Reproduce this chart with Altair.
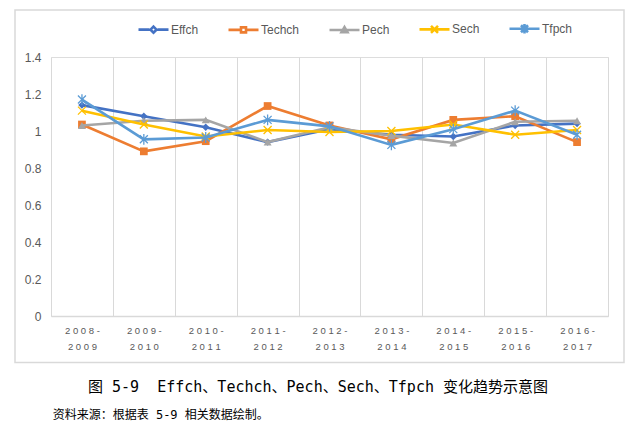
import altair as alt
import pandas as pd

periods = ["2008-2009", "2009-2010", "2010-2011", "2011-2012", "2012-2013",
           "2013-2014", "2014-2015", "2015-2016", "2016-2017"]
series_names = ["Effch", "Techch", "Pech", "Sech", "Tfpch"]
effch = [1.14, 1.08, 1.02, 0.94, 1.01, 0.98, 0.97, 1.03, 1.04]
techch = [1.035, 0.89, 0.945, 1.135, 1.03, 0.955, 1.06, 1.08, 0.94]
pech = [1.03, 1.055, 1.06, 0.94, 1.02, 0.975, 0.935, 1.05, 1.055]
sech = [1.11, 1.035, 0.97, 1.005, 0.995, 1.0, 1.035, 0.98, 1.005]
tfpch = [1.17, 0.955, 0.965, 1.06, 1.025, 0.925, 1.01, 1.11, 0.98]
y_ticks = [0, 0.2, 0.4, 0.6, 0.8, 1.0, 1.2, 1.4]

caption = "图 5-9\u00a0\u00a0Effch、Techch、Pech、Sech、Tfpch 变化趋势示意图"
source_note = "资料来源：根据表 5-9 相关数据绘制。"

colors = ["#4472C4", "#ED7D31", "#A5A5A5", "#FFC000", "#5B9BD5"]
plot_shapes = [
    ("diamond", True, 55),
    ("square", True, 60),
    ("triangle-up", True, 64),
    ("M-1,-1L1,1M1,-1L-1,1", False, 64),
    ("M-1,-1L1,1M1,-1L-1,1M0,-1.35L0,1.35", False, 64),
]
legend_paths = [
    "M-3,0L-0.8,0M0.8,0L3,0M0,-0.6L0.6,0L0,0.6L-0.6,0Z",
    "M-3,0L-0.6,0M0.6,0L3,0M-0.5,-0.5L0.5,-0.5L0.5,0.5L-0.5,0.5Z",
    "M-3,0L3,0M0,-0.6L0.6,0.45L-0.6,0.45Z",
    "M-3,0L3,0M-0.7,-0.7L0.7,0.7M0.7,-0.7L-0.7,0.7",
    "M-3,0L3,0M-0.7,-0.7L0.7,0.7M0.7,-0.7L-0.7,0.7M0,-0.95L0,0.95",
]

values = [effch, techch, pech, sech, tfpch]
rows = []
for name, vals in zip(series_names, values):
    for p, v in zip(periods, vals):
        rows.append({"period": p, "series": name, "value": v})
df = pd.DataFrame(rows)

W, H = 557, 259
FONT = "Liberation Sans"
TXT = "#595959"
GRID = "#D9D9D9"

x_enc = alt.X(
    "period:N",
    sort=periods,
    scale=alt.Scale(type="band", paddingInner=0, paddingOuter=0),
    axis=alt.Axis(
        title=None, tickBand="extent", grid=True, gridColor=GRID, gridWidth=1,
        domain=True, domainColor=GRID, domainWidth=1.5, ticks=False,
        labelAngle=0, labelFont=FONT, labelFontSize=9.5, labelColor=TXT,
        labelPadding=9, labelLineHeight=16, labelBaseline="top",
        labelExpr="[join(split(slice(datum.label,0,5),''),' '), join(split(slice(datum.label,5),''),' ')]",
    ),
)
y_enc = alt.Y(
    "value:Q",
    scale=alt.Scale(domain=[0, 1.4], nice=False, zero=True),
    axis=alt.Axis(
        title=None, values=y_ticks, grid=False, domain=False, ticks=False,
        format=".1~f", labelFont=FONT, labelFontSize=12, labelColor=TXT,
        labelPadding=10,
    ),
)

layers = []

frame = alt.Chart(pd.DataFrame({"k": [0]})).mark_rect(
    fill="white", fillOpacity=0, stroke=GRID, strokeWidth=1.5
).encode(
    x=alt.value(-36), x2=alt.value(573), y=alt.value(-47), y2=alt.value(305.5)
)
layers.append(frame)

for name, col, (shape, filled, size) in zip(series_names, colors, plot_shapes):
    sub = alt.Chart(df).transform_filter(alt.datum.series == name)
    line = sub.mark_line(color=col, strokeWidth=2.6).encode(x=x_enc, y=y_enc)
    if filled:
        pt = sub.mark_point(shape=shape, filled=True, color=col, size=size, opacity=1)
    else:
        pt = sub.mark_point(shape=shape, filled=False, color=col, size=size,
                            strokeWidth=1.3, opacity=1)
    layers.append(line)
    layers.append(pt.encode(x=x_enc, y=y_enc))

leg = dict(
    title=None, orient="none", direction="horizontal",
    legendX=96, legendY=-35, padding=0,
    symbolSize=100, symbolOpacity=1, symbolStrokeWidth=2.6,
    labelFont=FONT, labelFontSize=12, labelColor=TXT,
    labelOffset=11, columnPadding=24,
)
legend_layer = alt.Chart(df).mark_point(filled=False, opacity=0, strokeWidth=2.6).encode(
    x=x_enc, y=y_enc,
    color=alt.Color(
        "series:N",
        scale=alt.Scale(domain=series_names, range=colors),
        legend=alt.Legend(**leg),
    ),
    shape=alt.Shape(
        "series:N",
        scale=alt.Scale(domain=series_names, range=legend_paths),
        legend=alt.Legend(**leg),
    ),
)
layers.append(legend_layer)

cap = alt.Chart(pd.DataFrame({"t": [caption]})).mark_text(
    font="DejaVu Sans Mono, Noto Sans CJK SC", fontSize=15, color="#000000",
    align="center", baseline="middle"
).encode(text="t:N", x=alt.value(267), y=alt.value(329.5))
src = alt.Chart(pd.DataFrame({"t": [source_note]})).mark_text(
    font="DejaVu Sans Mono, Noto Sans CJK SC", fontSize=12, color="#000000",
    align="left", baseline="middle"
).encode(text="t:N", x=alt.value(1.7), y=alt.value(358))
layers += [cap, src]

chart = alt.layer(*layers).properties(
    width=W, height=H,
    autosize=alt.AutoSizeParams(type="none"),
    padding={"left": 43, "top": 49, "right": 20, "bottom": 108},
).configure_view(stroke=None).configure(background="white")

chart.save("out.html", embed_options={"renderer": "svg", "actions": False})
